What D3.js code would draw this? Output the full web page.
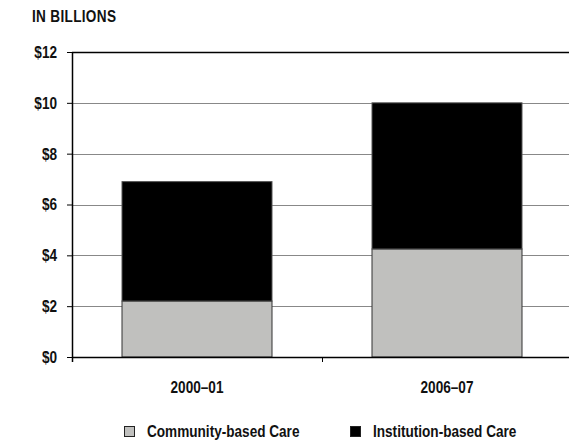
<!DOCTYPE html>
<html>
<head>
<meta charset="utf-8">
<script src="https://cdn.jsdelivr.net/npm/d3@7/dist/d3.min.js"></script>
<style>
  html, body { margin: 0; padding: 0; background: #fff; }
  svg { display: block; }
  text { font-family: "Liberation Sans", Arial, sans-serif; font-weight: bold; font-size: 17px; fill: #111; }
</style>
</head>
<body>
<svg id="chart" width="569" height="443"></svg>
<script>
// Spending by fiscal year, in billions of dollars
const categories = ["2000\u201301", "2006\u201307"];
const communityCare = [2.2, 4.25];
const institutionCare = [4.7, 5.75];
const seriesNames = ["Community-based Care", "Institution-based Care"];
const yTicks = [0, 2, 4, 6, 8, 10, 12];
const yTickLabels = ["$0", "$2", "$4", "$6", "$8", "$10", "$12"];

const svg = d3.select("#chart");
const margin = { top: 52, right: -3, bottom: 86, left: 72 };
const W = 569, H = 443;
const innerW = W - margin.left - margin.right;
const innerH = H - margin.top - margin.bottom;

// horizontally compress text for a condensed look, keeping its anchor position
const SQ = 0.8;
function narrow(sel) {
  sel.each(function () {
    const t = d3.select(this);
    const x0 = +(t.attr("x") || 0);
    t.attr("x", x0 / SQ).attr("transform", `scale(${SQ},1)`);
  });
}

const x = d3.scaleBand().domain(categories).range([0, innerW]).paddingInner(0.4).paddingOuter(0.2);
const y = d3.scaleLinear().domain([0, 12]).range([innerH, 0]);

const g = svg.append("g").attr("transform", `translate(${margin.left},${margin.top})`);

// gridlines
g.append("g").selectAll("line").data(yTicks.filter(t => t > 0)).join("line")
  .attr("x1", 0).attr("x2", innerW)
  .attr("y1", d => Math.round(y(d)) + 0.5).attr("y2", d => Math.round(y(d)) + 0.5)
  .attr("stroke", d => d === 12 ? "#000" : "#888")
  .attr("stroke-width", d => d === 12 ? 1.5 : 1);

// stacked bars
const rows = categories.map((c, i) => ({ cat: c, community: communityCare[i], institution: institutionCare[i] }));
const stack = d3.stack().keys(["community", "institution"])(rows);
const fills = ["#c0c0be", "#000000"];
const strokes = ["#333", "#555"];
const bars = g.append("g");
stack.forEach((layer, li) => {
  bars.selectAll(null).data(layer).join("rect")
    .attr("x", d => x(d.data.cat))
    .attr("width", x.bandwidth())
    .attr("y", d => y(d[1]))
    .attr("height", d => y(d[0]) - y(d[1]))
    .attr("fill", fills[li])
    .attr("stroke", strokes[li])
    .attr("stroke-width", 1);
});

// y axis
const yAxis = d3.axisLeft(y).tickValues(yTicks).tickFormat((d, i) => yTickLabels[i]).tickSize(5).tickPadding(10);
const ya = g.append("g").call(yAxis);
ya.select(".domain").attr("d", `M0.5,0V${innerH + 5}`).attr("stroke", "#000").attr("stroke-width", 1.5);
ya.selectAll(".tick line").attr("stroke", "#000");
ya.selectAll(".tick text").attr("font-size", null).attr("font-family", null).attr("fill", "#111").call(narrow);

// x axis
const xa = g.append("g").attr("transform", `translate(0,${innerH})`)
  .call(d3.axisBottom(x).tickSize(0).tickPadding(24));
xa.select(".domain").attr("d", `M0,0.5H${innerW}`).attr("stroke", "#000").attr("stroke-width", 1.5);
xa.selectAll(".tick text").attr("font-size", null).attr("font-family", null).attr("fill", "#111").call(narrow);
// divider tick between categories
g.append("line")
  .attr("x1", innerW / 2 + 0.5).attr("x2", innerW / 2 + 0.5)
  .attr("y1", innerH).attr("y2", innerH + 5)
  .attr("stroke", "#000");

// unit label
svg.append("text").attr("x", 32).attr("y", 22.5).attr("letter-spacing", 0.4).text("IN BILLIONS").call(narrow);

// legend
const legendX = [124, 350];
const leg = svg.append("g").attr("transform", "translate(0,426)");
seriesNames.forEach((name, i) => {
  leg.append("rect").attr("x", legendX[i] + 0.5).attr("y", 0.5).attr("width", 10).attr("height", 10)
    .attr("fill", fills[i]).attr("stroke", "#222").attr("stroke-width", 1);
  leg.append("text").attr("x", legendX[i] + 23).attr("y", 10.5).text(name).call(narrow);
});
</script>
</body>
</html>
